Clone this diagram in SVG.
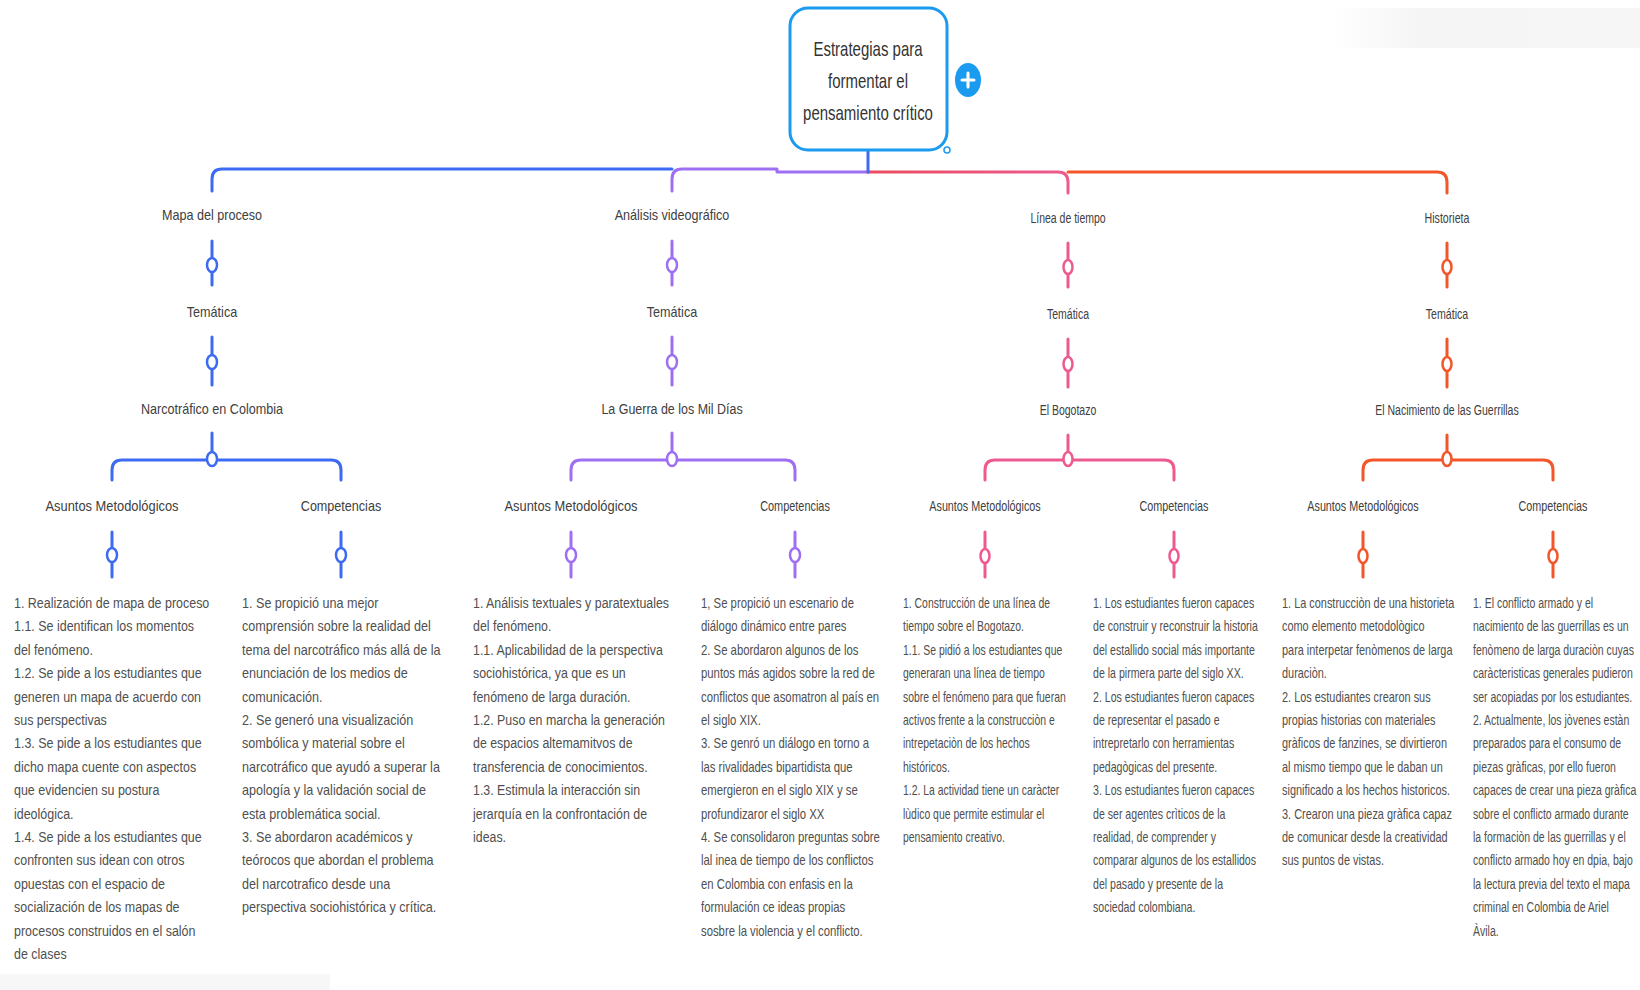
<svg xmlns="http://www.w3.org/2000/svg" width="1640" height="990" viewBox="0 0 1640 990">
<defs>
<style>
.lbl{font-family:"Liberation Sans",Arial,sans-serif;font-size:14px;fill:#404040;text-anchor:middle}
.body{font-family:"Liberation Sans",Arial,sans-serif;font-size:14px;fill:#4f4f4f}
.root{font-family:"Liberation Sans",Arial,sans-serif;font-size:20px;fill:#333;text-anchor:middle}
.ln{fill:none;stroke-width:3;stroke-linecap:round;stroke-linejoin:round}
.ring{fill:#fff;stroke-width:2.5}
.c1{stroke:#3D6AF2}.c2{stroke:#9E6FF2}.c3{stroke:#EE5A8F}.c4{stroke:#F2562A}
</style>
<linearGradient id="gPink" gradientUnits="userSpaceOnUse" x1="868" y1="0" x2="1068" y2="0">
<stop offset="0" stop-color="#E94C60"/><stop offset="1" stop-color="#EE5A8F"/>
</linearGradient>
<linearGradient id="gTop" x1="0" y1="0" x2="1" y2="0">
<stop offset="0" stop-color="#ffffff"/><stop offset="0.3" stop-color="#f5f5f5"/><stop offset="1" stop-color="#f6f6f6"/>
</linearGradient>
</defs>
<rect width="1640" height="990" fill="#fff"/>
<rect x="1330" y="8" width="310" height="40" fill="url(#gTop)"/>
<rect x="0" y="974" width="330" height="16" fill="#f7f7f7"/>

<g id="connectors">
  <!-- trunk -->
  <path class="ln c1" d="M672 169 H222 Q212 169 212 179 V191"/>
  <path class="ln c2" d="M868 172 H777 V169 H682 Q672 169 672 179 V191"/>
  <path class="ln c4" d="M1068 172 H1437 Q1447 172 1447 182 V193"/>
  <path class="ln" stroke="url(#gPink)" d="M868 172 H1058 Q1068 172 1068 182 V193"/>
  <path class="ln c1" d="M868 150 V172"/>

  <!-- branch 1 -->
  <path class="ln c1" d="M212 241 V285 M212 337 V385 M212 433 V460 M112 480 V470 Q112 460 122 460 H331 Q341 460 341 470 V480 M112 532 V577 M341 532 V577"/>
  <ellipse class="ring c1" cx="212" cy="265" rx="5" ry="7"/>
  <ellipse class="ring c1" cx="212" cy="362" rx="5" ry="7"/>
  <ellipse class="ring c1" cx="212" cy="459" rx="5" ry="7"/>
  <ellipse class="ring c1" cx="112" cy="555" rx="5" ry="7"/>
  <ellipse class="ring c1" cx="341" cy="555" rx="5" ry="7"/>

  <!-- branch 2 -->
  <path class="ln c2" d="M672 241 V285 M672 337 V385 M672 433 V460 M571 480 V470 Q571 460 581 460 H785 Q795 460 795 470 V480 M571 532 V577 M795 532 V577"/>
  <ellipse class="ring c2" cx="672" cy="265" rx="5" ry="7"/>
  <ellipse class="ring c2" cx="672" cy="362" rx="5" ry="7"/>
  <ellipse class="ring c2" cx="672" cy="459" rx="5" ry="7"/>
  <ellipse class="ring c2" cx="571" cy="555" rx="5" ry="7"/>
  <ellipse class="ring c2" cx="795" cy="555" rx="5" ry="7"/>

  <!-- branch 3 -->
  <path class="ln c3" d="M1068 243 V287 M1068 339 V387 M1068 435 V460 M985 480 V470 Q985 460 995 460 H1164 Q1174 460 1174 470 V480 M985 532 V577 M1174 532 V577"/>
  <ellipse class="ring c3" cx="1068" cy="267" rx="4.5" ry="7"/>
  <ellipse class="ring c3" cx="1068" cy="364" rx="4.5" ry="7"/>
  <ellipse class="ring c3" cx="1068" cy="459" rx="4.5" ry="7"/>
  <ellipse class="ring c3" cx="985" cy="556" rx="4.5" ry="7"/>
  <ellipse class="ring c3" cx="1174" cy="556" rx="4.5" ry="7"/>

  <!-- branch 4 -->
  <path class="ln c4" d="M1447 243 V287 M1447 339 V387 M1447 435 V460 M1363 480 V470 Q1363 460 1373 460 H1543 Q1553 460 1553 470 V480 M1363 532 V577 M1553 532 V577"/>
  <ellipse class="ring c4" cx="1447" cy="267" rx="4.5" ry="7"/>
  <ellipse class="ring c4" cx="1447" cy="364" rx="4.5" ry="7"/>
  <ellipse class="ring c4" cx="1447" cy="459" rx="4.5" ry="7"/>
  <ellipse class="ring c4" cx="1363" cy="556" rx="4.5" ry="7"/>
  <ellipse class="ring c4" cx="1553" cy="556" rx="4.5" ry="7"/>
</g>

<g id="root">
  <rect x="790" y="8" width="157" height="142" rx="18" fill="#fff" stroke="#1A9BEF" stroke-width="3"/>
  <circle cx="947" cy="150" r="3" fill="#fff" stroke="#1A9BEF" stroke-width="1.5"/>
  <g transform="translate(868,0) scale(0.75,1)">
    <text class="root"><tspan x="0" y="56">Estrategias para</tspan><tspan x="0" y="88">formentar el</tspan><tspan x="0" y="120">pensamiento crítico</tspan></text>
  </g>
</g>
<g id="plus-button">
  <ellipse cx="968" cy="80" rx="13" ry="17" fill="#1A9BEF"/>
  <path d="M962 80 H974 M968 73 V87" stroke="#fff" stroke-width="3" stroke-linecap="round"/>
</g>

<!-- Branch 1 -->
<g id="n-mapa-proceso"><g transform="translate(212,220) scale(0.9,1)"><text class="lbl" x="0" y="0">Mapa del proceso</text></g></g>
<g id="n-tematica-1"><g transform="translate(212,317) scale(0.9,1)"><text class="lbl" x="0" y="0">Temática</text></g></g>
<g id="n-narcotrafico"><g transform="translate(212,414) scale(0.9,1)"><text class="lbl" x="0" y="0">Narcotráfico en Colombia</text></g></g>
<g id="n-asuntos-1"><g transform="translate(112,511) scale(0.92,1)"><text class="lbl" x="0" y="0">Asuntos Metodológicos</text></g></g>
<g id="n-competencias-1"><g transform="translate(341,511) scale(0.9,1)"><text class="lbl" x="0" y="0">Competencias</text></g></g>
<g id="n-asuntos-1-text"><g transform="translate(14,608) scale(0.89,1)"><text class="body">
<tspan x="0" y="0">1. Realización de mapa de proceso</tspan>
<tspan x="0" dy="23.4">1.1. Se identifican los momentos</tspan>
<tspan x="0" dy="23.4">del fenómeno.</tspan>
<tspan x="0" dy="23.4">1.2. Se pide a los estudiantes que</tspan>
<tspan x="0" dy="23.4">generen un mapa de acuerdo con</tspan>
<tspan x="0" dy="23.4">sus perspectivas</tspan>
<tspan x="0" dy="23.4">1.3. Se pide a los estudiantes que</tspan>
<tspan x="0" dy="23.4">dicho mapa cuente con aspectos</tspan>
<tspan x="0" dy="23.4">que evidencien su postura</tspan>
<tspan x="0" dy="23.4">ideológica.</tspan>
<tspan x="0" dy="23.4">1.4. Se pide a los estudiantes que</tspan>
<tspan x="0" dy="23.4">confronten sus idean con otros</tspan>
<tspan x="0" dy="23.4">opuestas con el espacio de</tspan>
<tspan x="0" dy="23.4">socialización de los mapas de</tspan>
<tspan x="0" dy="23.4">procesos construidos en el salón</tspan>
<tspan x="0" dy="23.4">de clases</tspan>
</text></g></g>
<g id="n-competencias-1-text"><g transform="translate(242,608) scale(0.9,1)"><text class="body">
<tspan x="0" y="0">1. Se propició una mejor</tspan>
<tspan x="0" dy="23.4">comprensión sobre la realidad del</tspan>
<tspan x="0" dy="23.4">tema del narcotráfico más allá de la</tspan>
<tspan x="0" dy="23.4">enunciación de los medios de</tspan>
<tspan x="0" dy="23.4">comunicación.</tspan>
<tspan x="0" dy="23.4">2. Se generó una visualización</tspan>
<tspan x="0" dy="23.4">sombólica y material sobre el</tspan>
<tspan x="0" dy="23.4">narcotráfico que ayudó a superar la</tspan>
<tspan x="0" dy="23.4">apología y la validación social de</tspan>
<tspan x="0" dy="23.4">esta problemática social.</tspan>
<tspan x="0" dy="23.4">3. Se abordaron académicos y</tspan>
<tspan x="0" dy="23.4">teórocos que abordan el problema</tspan>
<tspan x="0" dy="23.4">del narcotrafico desde una</tspan>
<tspan x="0" dy="23.4">perspectiva sociohistórica y crítica.</tspan>
</text></g></g>

<!-- Branch 2 -->
<g id="n-analisis-video"><g transform="translate(672,220) scale(0.9,1)"><text class="lbl" x="0" y="0">Análisis videográfico</text></g></g>
<g id="n-tematica-2"><g transform="translate(672,317) scale(0.9,1)"><text class="lbl" x="0" y="0">Temática</text></g></g>
<g id="n-guerra"><g transform="translate(672,414) scale(0.89,1)"><text class="lbl" x="0" y="0">La Guerra de los Mil Días</text></g></g>
<g id="n-asuntos-2"><g transform="translate(571,511) scale(0.92,1)"><text class="lbl" x="0" y="0">Asuntos Metodológicos</text></g></g>
<g id="n-competencias-2"><g transform="translate(795,511) scale(0.78,1)"><text class="lbl" x="0" y="0">Competencias</text></g></g>
<g id="n-asuntos-2-text"><g transform="translate(473,608) scale(0.885,1)"><text class="body">
<tspan x="0" y="0">1. Análisis textuales y paratextuales</tspan>
<tspan x="0" dy="23.4">del fenómeno.</tspan>
<tspan x="0" dy="23.4">1.1. Aplicabilidad de la perspectiva</tspan>
<tspan x="0" dy="23.4">sociohistórica, ya que es un</tspan>
<tspan x="0" dy="23.4">fenómeno de larga duración.</tspan>
<tspan x="0" dy="23.4">1.2. Puso en marcha la generación</tspan>
<tspan x="0" dy="23.4">de espacios altemamitvos de</tspan>
<tspan x="0" dy="23.4">transferencia de conocimientos.</tspan>
<tspan x="0" dy="23.4">1.3. Estimula la interacción sin</tspan>
<tspan x="0" dy="23.4">jerarquía en la confrontación de</tspan>
<tspan x="0" dy="23.4">ideas.</tspan>
</text></g></g>
<g id="n-competencias-2-text"><g transform="translate(701,608) scale(0.81,1)"><text class="body">
<tspan x="0" y="0">1, Se propició un escenario de</tspan>
<tspan x="0" dy="23.4">diálogo dinámico entre pares</tspan>
<tspan x="0" dy="23.4">2. Se abordaron algunos de los</tspan>
<tspan x="0" dy="23.4">puntos más agidos sobre la red de</tspan>
<tspan x="0" dy="23.4">conflictos que asomatron al país en</tspan>
<tspan x="0" dy="23.4">el siglo XIX.</tspan>
<tspan x="0" dy="23.4">3. Se genró un diálogo en torno a</tspan>
<tspan x="0" dy="23.4">las rivalidades bipartidista que</tspan>
<tspan x="0" dy="23.4">emergieron en el siglo XIX y se</tspan>
<tspan x="0" dy="23.4">profundizaror el siglo XX</tspan>
<tspan x="0" dy="23.4">4. Se consolidaron preguntas sobre</tspan>
<tspan x="0" dy="23.4"> lal inea de tiempo de los conflictos</tspan>
<tspan x="0" dy="23.4">en Colombia con enfasis en la</tspan>
<tspan x="0" dy="23.4">formulación ce ideas propias</tspan>
<tspan x="0" dy="23.4">sosbre la violencia y el conflicto.</tspan>
</text></g></g>

<!-- Branch 3 -->
<g id="n-linea-tiempo"><g transform="translate(1068,223) scale(0.75,1)"><text class="lbl" x="0" y="0">Línea de tiempo</text></g></g>
<g id="n-tematica-3"><g transform="translate(1068,319) scale(0.75,1)"><text class="lbl" x="0" y="0">Temática</text></g></g>
<g id="n-bogotazo"><g transform="translate(1068,415) scale(0.75,1)"><text class="lbl" x="0" y="0">El Bogotazo</text></g></g>
<g id="n-asuntos-3"><g transform="translate(985,511) scale(0.77,1)"><text class="lbl" x="0" y="0">Asuntos Metodológicos</text></g></g>
<g id="n-competencias-3"><g transform="translate(1174,511) scale(0.77,1)"><text class="lbl" x="0" y="0">Competencias</text></g></g>
<g id="n-asuntos-3-text"><g transform="translate(903,608) scale(0.745,1)"><text class="body">
<tspan x="0" y="0">1. Construcción de una línea de</tspan>
<tspan x="0" dy="23.4">tiempo sobre el Bogotazo.</tspan>
<tspan x="0" dy="23.4">1.1. Se pidió a los estudiantes que</tspan>
<tspan x="0" dy="23.4">generaran una línea de tiempo</tspan>
<tspan x="0" dy="23.4">sobre el fenómeno para que fueran</tspan>
<tspan x="0" dy="23.4">activos frente a la construcciòn e</tspan>
<tspan x="0" dy="23.4">intrepetaciòn de los hechos</tspan>
<tspan x="0" dy="23.4">históricos.</tspan>
<tspan x="0" dy="23.4">1.2. La actividad tiene un caràcter</tspan>
<tspan x="0" dy="23.4">lùdico que permite estimular el</tspan>
<tspan x="0" dy="23.4">pensamiento creativo.</tspan>
</text></g></g>
<g id="n-competencias-3-text"><g transform="translate(1093,608) scale(0.757,1)"><text class="body">
<tspan x="0" y="0">1. Los estudiantes fueron capaces</tspan>
<tspan x="0" dy="23.4">de construir y reconstruir la historia</tspan>
<tspan x="0" dy="23.4">del estallido social más importante</tspan>
<tspan x="0" dy="23.4">de la pirmera parte del siglo XX.</tspan>
<tspan x="0" dy="23.4">2. Los estudiantes fueron capaces</tspan>
<tspan x="0" dy="23.4">de representar el pasado e</tspan>
<tspan x="0" dy="23.4">intrepretarlo con herramientas</tspan>
<tspan x="0" dy="23.4">pedagògicas del presente.</tspan>
<tspan x="0" dy="23.4">3. Los estudiantes fueron capaces</tspan>
<tspan x="0" dy="23.4">de ser agentes crìticos de la</tspan>
<tspan x="0" dy="23.4">realidad, de comprender y</tspan>
<tspan x="0" dy="23.4">comparar algunos de los estallidos</tspan>
<tspan x="0" dy="23.4">del pasado y presente de la</tspan>
<tspan x="0" dy="23.4">sociedad colombiana.</tspan>
</text></g></g>

<!-- Branch 4 -->
<g id="n-historieta"><g transform="translate(1447,223) scale(0.76,1)"><text class="lbl" x="0" y="0">Historieta</text></g></g>
<g id="n-tematica-4"><g transform="translate(1447,319) scale(0.76,1)"><text class="lbl" x="0" y="0">Temática</text></g></g>
<g id="n-guerrillas"><g transform="translate(1447,415) scale(0.75,1)"><text class="lbl" x="0" y="0">El Nacimiento de las Guerrillas</text></g></g>
<g id="n-asuntos-4"><g transform="translate(1363,511) scale(0.77,1)"><text class="lbl" x="0" y="0">Asuntos Metodológicos</text></g></g>
<g id="n-competencias-4"><g transform="translate(1553,511) scale(0.77,1)"><text class="lbl" x="0" y="0">Competencias</text></g></g>
<g id="n-asuntos-4-text"><g transform="translate(1282,608) scale(0.78,1)"><text class="body">
<tspan x="0" y="0">1. La construcciòn de una historieta</tspan>
<tspan x="0" dy="23.4">como elemento metodològico</tspan>
<tspan x="0" dy="23.4">para interpetar fenòmenos de larga</tspan>
<tspan x="0" dy="23.4">duraciòn.</tspan>
<tspan x="0" dy="23.4">2. Los estudiantes crearon sus</tspan>
<tspan x="0" dy="23.4">propias historias con materiales</tspan>
<tspan x="0" dy="23.4">gràficos de fanzines, se divirtieron</tspan>
<tspan x="0" dy="23.4">al mismo tiempo que le daban un</tspan>
<tspan x="0" dy="23.4">significado a los hechos historicos.</tspan>
<tspan x="0" dy="23.4">3. Crearon una pieza gràfica capaz</tspan>
<tspan x="0" dy="23.4">de comunicar desde la creatividad</tspan>
<tspan x="0" dy="23.4">sus puntos de vistas.</tspan>
</text></g></g>
<g id="n-competencias-4-text"><g transform="translate(1473,608) scale(0.75,1)"><text class="body">
<tspan x="0" y="0">1. El conflicto armado y el</tspan>
<tspan x="0" dy="23.4">nacimiento de las guerrillas es un</tspan>
<tspan x="0" dy="23.4">fenòmeno de larga duraciòn cuyas</tspan>
<tspan x="0" dy="23.4">caràcteristicas generales pudieron</tspan>
<tspan x="0" dy="23.4">ser acopiadas por los estudiantes.</tspan>
<tspan x="0" dy="23.4">2. Actualmente, los jòvenes estàn</tspan>
<tspan x="0" dy="23.4">preparados para el consumo de</tspan>
<tspan x="0" dy="23.4">piezas gràficas, por ello fueron</tspan>
<tspan x="0" dy="23.4">capaces de crear una pieza gràfica</tspan>
<tspan x="0" dy="23.4">sobre el conflicto armado durante</tspan>
<tspan x="0" dy="23.4">la formaciòn de las guerrillas y el</tspan>
<tspan x="0" dy="23.4">conflicto armado hoy en dpia, bajo</tspan>
<tspan x="0" dy="23.4">la lectura previa del texto el mapa</tspan>
<tspan x="0" dy="23.4">criminal en Colombia de Ariel</tspan>
<tspan x="0" dy="23.4">Àvila.</tspan>
</text></g></g>
</svg>
